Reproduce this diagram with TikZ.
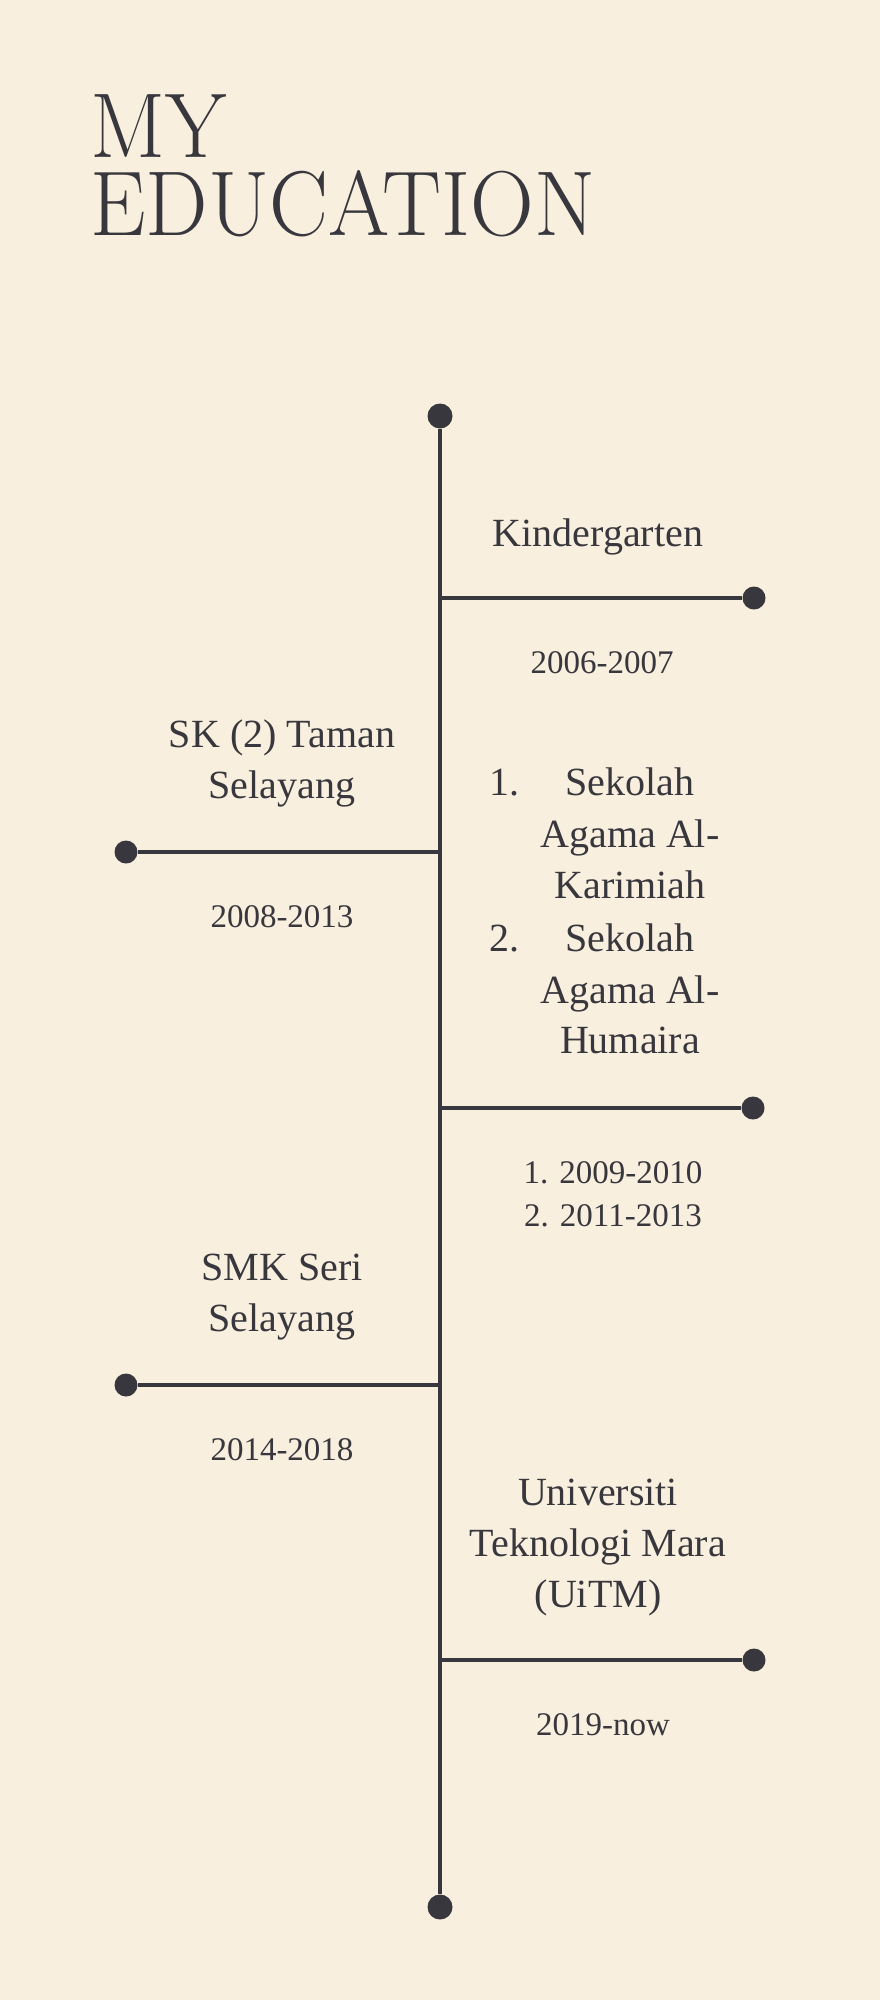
\documentclass[tikz,border=0pt]{standalone}
\usepackage{fontspec}
\newfontfamily\bodyfont{Liberation Serif}
\definecolor{bg}{RGB}{248,239,222}
\definecolor{ink}{RGB}{56,55,61}
\begin{document}
\begin{tikzpicture}[x=1pt,y=-1pt,
  dot/.style={circle,fill=ink,inner sep=0pt,minimum size=25pt},
  enddot/.style={dot,minimum size=23pt},
  stem/.style={draw=ink,line width=4pt},
  ttl/.style={text=ink,anchor=base west,inner sep=0pt,font={\fontsize{92}{78}\selectfont}},
  label/.style={text=ink,inner sep=0pt,anchor=base,font={\bodyfont\fontsize{40}{51}\selectfont}},
  yrs/.style={text=ink,inner sep=0pt,anchor=base,font={\bodyfont\fontsize{33}{43}\selectfont}}]
\fill[bg] (0,0) rectangle (880,2000);
\useasboundingbox (0,0) rectangle (880,2000);
% title
\node[ttl] (title1) at (90,157) {\scalebox{0.96}[1]{MY}};
\node[ttl] (title2) at (90,235) {\scalebox{0.96}[1]{EDUCATION}};
% main line
\node[dot] (top) at (440,416) {};
\node[dot] (bot) at (440,1907) {};
\draw[stem] (top) -- (bot);
% branches
\coordinate (j1) at (440,598);
\node[enddot] (e1) at (754,598) {};
\coordinate (j2) at (440,852);
\node[enddot] (e2) at (126,852) {};
\coordinate (j3) at (440,1108);
\node[enddot] (e3) at (753,1108) {};
\coordinate (j4) at (440,1385);
\node[enddot] (e4) at (126,1385) {};
\coordinate (j5) at (440,1660);
\node[enddot] (e5) at (754,1660) {};
\draw[stem] (j1) -- (e1);
\draw[stem] (j2) -- (e2);
\draw[stem] (j3) -- (e3);
\draw[stem] (j4) -- (e4);
\draw[stem] (j5) -- (e5);
% labels
\node[label] (l1) at (598,546) {Kindergarten};
\node[yrs] (d1) at (602,673) {2006-2007};
\node[label] (l2a) at (282,747) {SK (2) Taman};
\node[label] (l2b) at (282,798) {Selayang};
\node[yrs] (d2) at (282,927) {2008-2013};
\node[label,anchor=base west] (n1) at (489,795) {1.};
\node[label] (l3a) at (630,795) {Sekolah};
\node[label] (l3b) at (630,847) {Agama Al-};
\node[label] (l3c) at (630,898) {Karimiah};
\node[label,anchor=base west] (n2) at (489,951) {2.};
\node[label] (l3d) at (630,951) {Sekolah};
\node[label] (l3e) at (630,1003) {Agama Al-};
\node[label] (l3f) at (630,1053) {Humaira};
\node[yrs] (d3a) at (613,1183) {1. 2009-2010};
\node[yrs] (d3b) at (613,1226) {2. 2011-2013};
\node[label] (l4a) at (282,1280) {SMK Seri};
\node[label] (l4b) at (282,1331) {Selayang};
\node[yrs] (d4) at (282,1460) {2014-2018};
\node[label] (l5a) at (598,1505) {Universiti};
\node[label] (l5b) at (598,1556) {Teknologi Mara};
\node[label] (l5c) at (598,1607) {(UiTM)};
\node[yrs] (d5) at (603,1735) {2019-now};
\end{tikzpicture}
\end{document}
